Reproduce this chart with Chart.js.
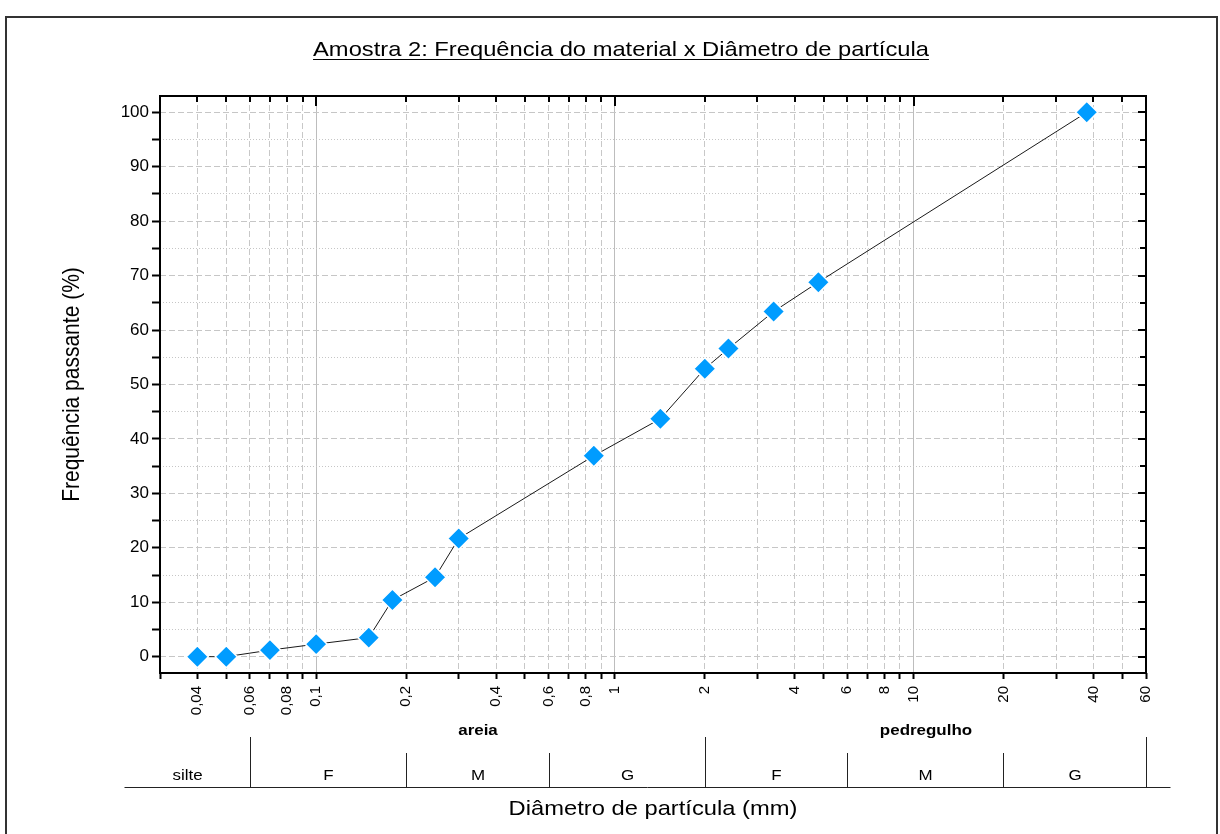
<!DOCTYPE html>
<html lang="pt-BR">
<head>
<meta charset="utf-8">
<title>Amostra 2: Frequência do material x Diâmetro de partícula</title>
<script src="https://cdn.jsdelivr.net/npm/chart.js@4.4.1/dist/chart.umd.min.js"></script>
<style>
  html, body { margin: 0; padding: 0; background: #fff; }
  canvas { display: block; }
</style>
</head>
<body>
<canvas id="granulometria" width="1220" height="834"></canvas>
<script>
// Curva granulométrica - amostra 2
const diametros = [0.04, 0.05, 0.07, 0.1, 0.15, 0.18, 0.25, 0.3, 0.85, 1.42, 2.0, 2.4, 3.4, 4.8, 38];
const passante = [0, 0, 1.2, 2.3, 3.5, 10.4, 14.6, 21.7, 36.9, 43.7, 52.9, 56.6, 63.4, 68.8, 100];

// Eixo x (logarítmico): todas as divisões e as que recebem rótulo
const xDivisoes = [0.03, 0.04, 0.05, 0.06, 0.07, 0.08, 0.09, 0.1, 0.2, 0.3, 0.4, 0.5, 0.6, 0.7, 0.8, 0.9,
  1, 2, 3, 4, 5, 6, 7, 8, 9, 10, 20, 30, 40, 50, 60];
const xRotulados = [0.04, 0.06, 0.08, 0.1, 0.2, 0.4, 0.6, 0.8, 1, 2, 4, 6, 8, 10, 20, 40, 60];
const xRotulos = ["0,04", "0,06", "0,08", "0,1", "0,2", "0,4", "0,6", "0,8", "1", "2", "4", "6", "8", "10", "20", "40", "60"];
const decadas = [0.1, 1, 10];

// Eixo y
const yDivisoes = [0, 5, 10, 15, 20, 25, 30, 35, 40, 45, 50, 55, 60, 65, 70, 75, 80, 85, 90, 95, 100];
const yRotulados = [0, 10, 20, 30, 40, 50, 60, 70, 80, 90, 100];
const yRotulos = ["0", "10", "20", "30", "40", "50", "60", "70", "80", "90", "100"];

// Classificação do solo (faixas em mm)
const grupos = ["areia", "pedregulho"];
const gruposInicio = [0.06, 2];
const gruposFim = [2, 60];
const classes = ["silte", "F", "M", "G", "F", "M", "G"];
const classesLimites = [0.0228, 0.06, 0.2, 0.6, 2, 6, 20, 60];
const tabelaFim = 72;

const FONTE = '"Liberation Sans", Arial, Helvetica, sans-serif';
const ESTICA = 1.13; // o texto da figura original é um pouco mais largo

Chart.defaults.font.family = FONTE;
Chart.defaults.color = "#000";

// texto horizontal levemente esticado na largura
function texto(ctx, str, x, y) {
  ctx.save();
  ctx.translate(x, y);
  ctx.scale(ESTICA, 1);
  ctx.fillText(str, 0, 0);
  ctx.restore();
}

// Moldura do gráfico, marcas internas, títulos e tabela de classificação
const molduraPlugin = {
  id: "moldura",
  beforeDatasetsDraw(chart) {
    const { ctx, chartArea: a, scales: { x, y } } = chart;
    ctx.save();
    ctx.strokeStyle = "#000";
    ctx.lineWidth = 2;
    xDivisoes.forEach(v => {
      const px = Math.round(x.getPixelForValue(v));
      const len = decadas.includes(v) ? 10 : 6;
      ctx.beginPath();
      ctx.moveTo(px, a.top);
      ctx.lineTo(px, a.top + len);
      ctx.stroke();
    });
    yDivisoes.forEach(v => {
      const py = Math.round(y.getPixelForValue(v));
      const len = v % 10 === 0 ? 8 : 6;
      ctx.beginPath();
      ctx.moveTo(a.right, py);
      ctx.lineTo(a.right - len, py);
      ctx.stroke();
    });
    ctx.strokeRect(a.left, a.top, a.right - a.left, a.bottom - a.top);
    ctx.restore();
  },
  afterDraw(chart) {
    const { ctx, chartArea: a, scales: { x } } = chart;
    ctx.save();
    ctx.fillStyle = "#000";
    ctx.textAlign = "center";

    // título sublinhado
    const titulo = "Amostra 2: Frequência do material x Diâmetro de partícula";
    ctx.font = "21px " + FONTE;
    ctx.textBaseline = "alphabetic";
    texto(ctx, titulo, 621, 56);
    const w = ctx.measureText(titulo).width * ESTICA;
    ctx.strokeStyle = "#000";
    ctx.lineWidth = 1;
    ctx.beginPath();
    ctx.moveTo(621 - w / 2, 59.5);
    ctx.lineTo(621 + w / 2, 59.5);
    ctx.stroke();

    // título do eixo y
    ctx.save();
    ctx.translate(72, (a.top + a.bottom) / 2);
    ctx.scale(ESTICA, 1);
    ctx.rotate(-Math.PI / 2);
    ctx.textBaseline = "middle";
    ctx.fillText("Frequência passante (%)", 0, 0);
    ctx.restore();

    // título do eixo x
    ctx.textBaseline = "middle";
    texto(ctx, "Diâmetro de partícula (mm)", (a.left + a.right) / 2, 809);

    // tabela de classificação
    const px = v => Math.round(x.getPixelForValue(v)) + 0.5;
    ctx.lineWidth = 1;
    ctx.strokeStyle = "#222";
    ctx.beginPath();
    ctx.moveTo(px(classesLimites[0]), 787.5);
    ctx.lineTo(px(tabelaFim), 787.5);
    ctx.stroke();

    ctx.font = "bold 15px " + FONTE;
    grupos.forEach((g, i) => {
      const x0 = px(gruposInicio[i]);
      const x1 = px(gruposFim[i]);
      texto(ctx, g, (x0 + x1) / 2, 731);
    });

    const limitesGrupo = gruposInicio.concat(gruposFim);
    classesLimites.slice(1).forEach(v => {
      const xx = px(v);
      const topo = limitesGrupo.includes(v) ? 737 : 753;
      ctx.beginPath();
      ctx.moveTo(xx, topo);
      ctx.lineTo(xx, 787);
      ctx.stroke();
    });

    ctx.font = "15px " + FONTE;
    classes.forEach((c, i) => {
      const x0 = px(classesLimites[i]);
      const x1 = px(classesLimites[i + 1]);
      texto(ctx, c, (x0 + x1) / 2, 776);
    });

    // borda externa da figura
    ctx.strokeStyle = "#333";
    ctx.lineWidth = 2;
    ctx.strokeRect(6, 17, 1211, 840);
    ctx.restore();
  }
};

const ctx = document.getElementById("granulometria").getContext("2d");
const grafico = new Chart(ctx, {
  type: "line",
  data: {
    datasets: [{
      label: "Amostra 2",
      data: diametros.map((d, i) => ({ x: d, y: passante[i] })),
      borderColor: "#1a1a1a",
      borderWidth: 1,
      tension: 0,
      fill: false,
      pointStyle: "rectRot",
      pointRadius: 11,
      pointBackgroundColor: "#009cff",
      pointBorderColor: "#ffffff",
      pointBorderWidth: 1.5
    }]
  },
  options: {
    responsive: false,
    animation: false,
    devicePixelRatio: 1,
    layout: { padding: { left: 0, right: 74, top: 96, bottom: 0 } },
    plugins: {
      legend: { display: false },
      tooltip: { enabled: false }
    },
    scales: {
      x: {
        type: "logarithmic",
        min: 0.03,
        max: 60,
        afterBuildTicks: s => { s.ticks = xDivisoes.map(v => ({ value: v })); },
        afterFit: s => { s.height = 161; },
        ticks: {
          autoSkip: false,
          minRotation: 90,
          maxRotation: 90,
          padding: 7,
          color: "#000",
          font: { size: 15 },
          callback: v => {
            const i = xRotulados.indexOf(v);
            return i >= 0 ? xRotulos[i] : "";
          }
        },
        grid: {
          color: c => (c.tick && decadas.includes(c.tick.value)) ? "#bdbdbd" : "#c8c8c8",
          lineWidth: 1,
          tickLength: 6,
          tickColor: "#000",
          tickWidth: 2
        },
        border: {
          display: false,
          dash: c => (c.tick && decadas.includes(c.tick.value)) ? [] : [6, 3]
        }
      },
      y: {
        min: -3,
        max: 103,
        afterBuildTicks: s => { s.ticks = yDivisoes.map(v => ({ value: v })); },
        afterFit: s => { s.width = 160; },
        ticks: {
          padding: 3,
          color: "#000",
          font: { size: 17 },
          callback: v => {
            const i = yRotulados.indexOf(v);
            return i >= 0 ? yRotulos[i] : "";
          }
        },
        grid: {
          color: "#c6c6c6",
          lineWidth: 1,
          tickLength: 8,
          tickColor: "#000",
          tickWidth: 2
        },
        border: {
          display: false,
          dash: c => (c.tick && c.tick.value % 10 === 0) ? [6, 3] : [1, 2]
        }
      }
    }
  },
  plugins: [molduraPlugin]
});
</script>
</body>
</html>
